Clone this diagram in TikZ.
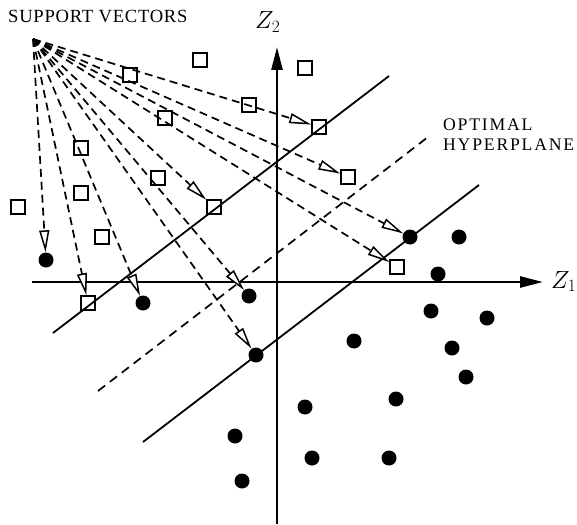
\documentclass[tikz,border=0pt]{standalone}
\usepackage{fontspec}
\setmainfont{Liberation Serif}
\usetikzlibrary{arrows.meta}
\begin{document}
\begin{tikzpicture}[x=1pt,y=-1pt,
  sv/.style={draw, line width=2.1pt, minimum size=13.5pt, inner sep=0pt},
  dot/.style={circle, fill=black, minimum size=15pt, inner sep=0pt},
  axis/.style={line width=2.6pt, -{Triangle[length=23pt,width=11pt]}},
  margin/.style={line width=1.8pt},
  hyper/.style={line width=1.7pt, dash pattern=on 9pt off 6pt},
  proj/.style={line width=1.7pt, dash pattern=on 8pt off 5pt,
    -{Triangle[length=22pt,width=10pt,fill=white,line width=1.5pt]}},
  svlbl/.style={font=\fontsize{18.6}{20}\selectfont\addfontfeature{LetterSpace=4}, inner sep=0pt},
  hplbl/.style={font=\fontsize{17.7}{20}\selectfont\addfontfeature{LetterSpace=10}, inner sep=0pt},
  zlbl/.style={font=\fontsize{25}{30}\selectfont, inner sep=0pt}
]
\useasboundingbox (0,0) rectangle (577,524);

% axes
\coordinate (xs) at (32,282);
\coordinate (xe) at (543,282);
\coordinate (ys) at (277,524);
\coordinate (ye) at (277,47);
\draw[axis] (xs) -- (xe);
\draw[axis] (ys) -- (ye);
\node[zlbl, anchor=base west] (z1) at (551,288) {$Z_1$};
\node[zlbl, anchor=base west] (z2) at (255,29) {$Z_2$};

% margins and hyperplane
\coordinate (u1) at (53,333);
\coordinate (u2) at (389,76);
\coordinate (l1) at (143,442);
\coordinate (l2) at (479,185);
\coordinate (h1) at (98,391);
\coordinate (h2) at (428,137);
\draw[margin] (u1) -- (u2);
\draw[margin] (l1) -- (l2);
\draw[hyper] (h1) -- (h2);

% squares
\node[sv] (sq1) at (18,207) {};
\node[sv] (sq2) at (130,75) {};
\node[sv] (sq3) at (200,60) {};
\node[sv] (sq4) at (305,68) {};
\node[sv] (sq5) at (165,118) {};
\node[sv] (sq6) at (249,105) {};
\node[sv] (sq7) at (81,148) {};
\node[sv] (sq8) at (158,178) {};
\node[sv] (sq9) at (81,193) {};
\node[sv] (sq10) at (102,237) {};
\node[sv] (sq11) at (214,207) {};
\node[sv] (sq12) at (319,127) {};
\node[sv] (sq13) at (348,177) {};
\node[sv] (sq14) at (397,267) {};
\node[sv] (sq15) at (88,303) {};

% dots
\node[dot] (d1) at (46,260) {};
\node[dot] (d2) at (143,303) {};
\node[dot] (d3) at (249,296) {};
\node[dot] (d4) at (256,355) {};
\node[dot] (d5) at (410,237) {};
\node[dot] (d6) at (459,237) {};
\node[dot] (d7) at (438,274) {};
\node[dot] (d8) at (431,311) {};
\node[dot] (d9) at (487,318) {};
\node[dot] (d10) at (354,341) {};
\node[dot] (d11) at (452,348) {};
\node[dot] (d12) at (466,377) {};
\node[dot] (d13) at (396,399) {};
\node[dot] (d14) at (305,407) {};
\node[dot] (d15) at (235,436) {};
\node[dot] (d16) at (312,458) {};
\node[dot] (d17) at (389,458) {};
\node[dot] (d18) at (242,481) {};

% support vector projections
\coordinate (src) at (33,39);
\foreach \t in {d1,sq15,d2,d3,d4,sq11,sq12,sq13,d5,sq14}
  \draw[proj] (src) -- (\t);

% labels
\node[svlbl, anchor=base west] (svlabel) at (8,22.3) {SUPPORT VECTORS};
\node[hplbl, anchor=base west] (opt1) at (443,130) {OPTIMAL};
\node[hplbl, anchor=base west] (opt2) at (443,150) {HYPERPLANE};
\end{tikzpicture}
\end{document}
